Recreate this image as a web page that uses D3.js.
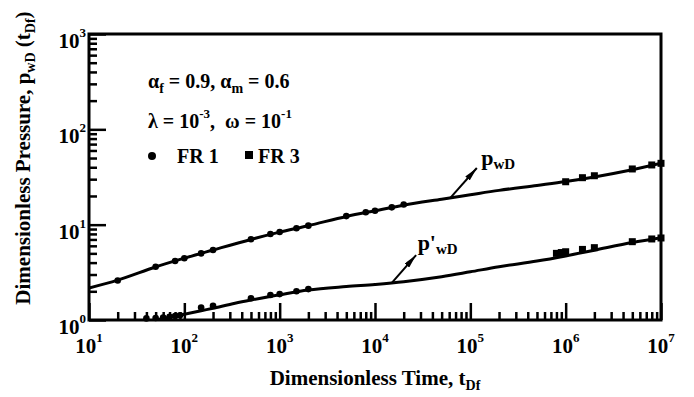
<!DOCTYPE html>
<html>
<head>
<meta charset="utf-8">
<script src="https://cdn.jsdelivr.net/npm/d3@7"></script>
<style>
  body { margin: 0; background: #fff; }
  svg { display: block; }
  text { font-family: "Liberation Serif", "Times New Roman", serif; font-weight: bold; fill: #000; white-space: pre; }
</style>
</head>
<body>
<svg width="694" height="397"></svg>
<script>
// model curves
var pwdT  = [10, 20, 50, 100, 200, 500, 1e3, 2e3, 5e3, 1e4, 2e4, 5e4, 1e5, 2e5, 5e5, 1e6, 2e6, 5e6, 1e7];
var pwdV  = [2.17, 2.62, 3.6, 4.45, 5.42, 7.0, 8.35, 9.75, 12.2, 14.0, 16.0, 18.5, 20.6, 22.9, 25.8, 28.3, 31.6, 37.6, 44.0];
var dpwdT = [30, 50, 70, 100, 150, 200, 340, 500, 1e3, 2e3, 5e3, 1e4, 2e4, 5e4, 1e5, 2e5, 5e5, 1e6, 2e6, 5e6, 1e7];
var dpwdV = [0.9, 1.0, 1.07, 1.15, 1.25, 1.33, 1.5, 1.62, 1.84, 2.06, 2.24, 2.36, 2.52, 2.84, 3.2, 3.62, 4.15, 4.7, 5.4, 6.5, 7.3];

// FR 1 (circles)
var fr1PT = [20, 50, 80, 100, 150, 200, 500, 800, 1000, 1500, 2000, 5000, 8000, 10000, 15000, 20000];
var fr1PV = [2.6, 3.62, 4.16, 4.44, 5.0, 5.42, 7.02, 7.98, 8.38, 9.16, 9.77, 12.3, 13.5, 14.0, 15.2, 16.3];
var fr1DT = [40, 50, 60, 70, 80, 90, 150, 200, 500, 800, 1000, 1500, 2000];
var fr1DV = [1.04, 1.05, 1.06, 1.08, 1.1, 1.12, 1.35, 1.41, 1.69, 1.83, 1.87, 2.0, 2.11];

// FR 3 (squares)
var fr3PT = [1e6, 1.5e6, 2e6, 5e6, 8e6, 1e7];
var fr3PV = [28.2, 31.1, 32.6, 38.4, 42.3, 44.0];
var fr3DT = [8e5, 9e5, 1e6, 1.5e6, 2e6, 5e6, 8e6, 1e7];
var fr3DV = [5.0, 5.1, 5.2, 5.5, 5.74, 6.63, 7.08, 7.25];

var xExp = [1, 2, 3, 4, 5, 6, 7];
var yExp = [0, 1, 2, 3];

var svg = d3.select("svg");
var plotL = 89, plotR = 661, plotT = 34, plotB = 320;

var x = d3.scaleLog().domain([10, 1e7]).range([plotL, plotR]);
var y = d3.scaleLog().domain([1, 1000]).range([plotB, plotT]);

function zip(t, v) { return t.map(function (d, i) { return {t: d, v: v[i]}; }); }

svg.append("clipPath").attr("id", "clip")
  .append("rect").attr("x", plotL).attr("y", plotT).attr("width", plotR - plotL).attr("height", plotB - plotT);

// minor / major ticks
var minorX = [], minorY = [];
for (var e = 1; e < 7; e++) for (var k = 2; k <= 9; k++) minorX.push(k * Math.pow(10, e));
for (var e2 = 0; e2 < 3; e2++) for (var k2 = 2; k2 <= 9; k2++) minorY.push(k2 * Math.pow(10, e2));

function tickStyle(g) {
  g.select(".domain").remove();
  g.selectAll("line").attr("stroke", "#000").attr("stroke-width", 2.5);
  g.selectAll("text").remove();
}

svg.append("g").attr("transform", "translate(0," + plotB + ")")
  .call(d3.axisBottom(x).tickValues(minorX).tickSize(-8)).call(tickStyle);
svg.append("g").attr("transform", "translate(0," + plotB + ")")
  .call(d3.axisBottom(x).tickValues(xExp.map(function (d) { return Math.pow(10, d); })).tickSize(-17)).call(tickStyle);
svg.append("g").attr("transform", "translate(" + plotL + ",0)")
  .call(d3.axisLeft(y).tickValues(minorY).tickSize(-8)).call(tickStyle);
svg.append("g").attr("transform", "translate(" + plotL + ",0)")
  .call(d3.axisLeft(y).tickValues(yExp.map(function (d) { return Math.pow(10, d); })).tickSize(-17)).call(tickStyle);

// frame
svg.append("rect").attr("x", plotL).attr("y", plotT).attr("width", plotR - plotL).attr("height", plotB - plotT)
  .attr("fill", "none").attr("stroke", "#000").attr("stroke-width", 3);

// tick labels
var xl = svg.append("g").selectAll("text").data(xExp).enter().append("text")
  .attr("x", function (d) { return x(Math.pow(10, d)); }).attr("y", 353)
  .attr("text-anchor", "middle").style("font-size", "21px");
xl.append("tspan").text("10");
xl.append("tspan").attr("dy", -11).style("font-size", "13px").text(function (d) { return d; });

var yl = svg.append("g").selectAll("text").data(yExp).enter().append("text")
  .attr("x", 86).attr("y", function (d) { return y(Math.pow(10, d)) + 14; })
  .attr("text-anchor", "end").style("font-size", "21px");
yl.append("tspan").text("10");
yl.append("tspan").attr("dy", -11).style("font-size", "13px").text(function (d) { return d; });

// axis titles
var xt = svg.append("text").attr("x", (plotL + plotR) / 2).attr("y", 385)
  .attr("text-anchor", "middle").style("font-size", "21px");
xt.append("tspan").text("Dimensionless Time, t");
xt.append("tspan").attr("dy", 5).style("font-size", "14px").text("Df");

var yt = svg.append("text").attr("transform", "translate(30,158) rotate(-90)")
  .attr("text-anchor", "middle").style("font-size", "21px");
yt.append("tspan").text("Dimensionless Pressure, p");
yt.append("tspan").attr("dy", 5).style("font-size", "14px").text("wD");
yt.append("tspan").attr("dy", -5).text(" (t");
yt.append("tspan").attr("dy", 5).style("font-size", "14px").text("Df");
yt.append("tspan").attr("dy", -5).text(")");

// curves
var line = d3.line().x(function (d) { return x(d.t); }).y(function (d) { return y(d.v); })
  .curve(d3.curveCatmullRom.alpha(0.5));
var plot = svg.append("g").attr("clip-path", "url(#clip)");
[zip(pwdT, pwdV), zip(dpwdT, dpwdV)].forEach(function (s) {
  plot.append("path").datum(s).attr("d", line)
    .attr("fill", "none").attr("stroke", "#000").attr("stroke-width", 3);
});

// data points
[zip(fr1PT, fr1PV), zip(fr1DT, fr1DV)].forEach(function (s) {
  svg.append("g").selectAll("circle").data(s).enter().append("circle")
    .attr("cx", function (d) { return x(d.t); }).attr("cy", function (d) { return y(d.v); })
    .attr("r", 3.3).attr("fill", "#000");
});
[zip(fr3PT, fr3PV), zip(fr3DT, fr3DV)].forEach(function (s) {
  svg.append("g").selectAll("rect").data(s).enter().append("rect")
    .attr("x", function (d) { return x(d.t) - 3.5; }).attr("y", function (d) { return y(d.v) - 3.5; })
    .attr("width", 7).attr("height", 7).attr("fill", "#000");
});

// annotation text
var a1 = svg.append("text").attr("x", 148).attr("y", 88).style("font-size", "20px");
a1.append("tspan").text("\u03b1");
a1.append("tspan").attr("dy", 5).style("font-size", "14px").text("f");
a1.append("tspan").attr("dy", -5).text(" = 0.9, \u03b1");
a1.append("tspan").attr("dy", 5).style("font-size", "14px").text("m");
a1.append("tspan").attr("dy", -5).text(" = 0.6");

var a2 = svg.append("text").attr("x", 148).attr("y", 128).style("font-size", "20px");
a2.append("tspan").text("\u03bb = 10");
a2.append("tspan").attr("dy", -10).style("font-size", "13px").text("-3");
a2.append("tspan").attr("dy", 10).text(",  \u03c9 = 10");
a2.append("tspan").attr("dy", -10).style("font-size", "13px").text("-1");

// legend
svg.append("circle").attr("cx", 152).attr("cy", 156).attr("r", 4).attr("fill", "#000");
svg.append("text").attr("x", 177).attr("y", 163).style("font-size", "20px").text("FR 1");
svg.append("rect").attr("x", 245).attr("y", 151).attr("width", 8).attr("height", 8).attr("fill", "#000");
svg.append("text").attr("x", 258).attr("y", 163).style("font-size", "20px").text("FR 3");

// curve labels with arrows
svg.append("defs").append("marker").attr("id", "head")
  .attr("viewBox", "0 -3 14 6").attr("refX", 14).attr("refY", 0)
  .attr("markerWidth", 14).attr("markerHeight", 6).attr("markerUnits", "userSpaceOnUse")
  .attr("orient", "auto")
  .append("path").attr("d", "M0,-3L14,0L0,3Z").attr("fill", "#000");

var labels = [
  {from: [6.1e4, 18.9], to: [1.17e5, 39.3], at: [1.3e5, 42.3], prime: ""},
  {from: [1.5e4, 2.45], to: [2.7e4, 4.8], at: [2.8e4, 5.4], prime: "'"}
];
labels.forEach(function (l) {
  svg.append("line")
    .attr("x1", x(l.from[0])).attr("y1", y(l.from[1]))
    .attr("x2", x(l.to[0])).attr("y2", y(l.to[1]))
    .attr("stroke", "#000").attr("stroke-width", 2).attr("marker-end", "url(#head)");
  var t = svg.append("text").attr("x", x(l.at[0])).attr("y", y(l.at[1])).style("font-size", "22px");
  t.append("tspan").text("p" + l.prime);
  t.append("tspan").attr("dy", 4).style("font-size", "15px").text("wD");
});
</script>
</body>
</html>
